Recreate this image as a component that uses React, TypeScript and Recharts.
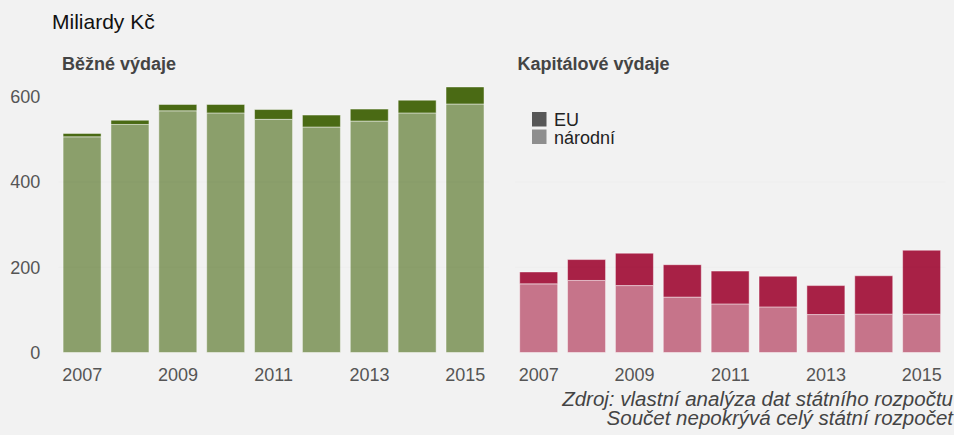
import React from "react";
import { BarChart, Bar, XAxis, YAxis, ReferenceLine } from "recharts";

const years = ["2007", "2008", "2009", "2010", "2011", "2012", "2013", "2014", "2015"];

// Běžné výdaje (mld. Kč)
const currentNational = [506, 535, 567, 562, 547, 529, 543, 562, 583];
const currentEU = [8, 10, 15, 20, 23, 28, 28, 30, 40];

// Kapitálové výdaje (mld. Kč)
const capitalNational = [161, 169, 157, 130, 114, 107, 89, 90, 90];
const capitalEU = [28, 49, 76, 76, 77, 72, 68, 90, 150];

const yTicks = [0, 200, 400, 600];
const gridLevels = [200, 400];

const legendItems = [
  { label: "EU", color: "#575757" },
  { label: "národní", color: "#8e8e8e" },
];

const footnotes = [
  "Zdroj: vlastní analýza dat státního rozpočtu",
  "Součet nepokrývá celý státní rozpočet",
];

const FONT = "'Liberation Sans', Arial, Helvetica, sans-serif";

const currentData = years.map((year, i) => ({
  year,
  national: currentNational[i],
  eu: currentEU[i],
}));

const capitalData = years.map((year, i) => ({
  year,
  national: capitalNational[i],
  eu: capitalEU[i],
}));

const W = 954;
const H = 435;
const chartMargin = { top: 79.7, bottom: 52.5 };

function Panel({
  data,
  left,
  width,
  margin,
  showY,
  light,
  dark,
}: {
  data: Array<{ year: string; national: number; eu: number }>;
  left: number;
  width: number;
  margin: { left: number; right: number };
  showY: boolean;
  light: string;
  dark: string;
}) {
  return (
    <div style={{ position: "absolute", left, top: 0 }}>
      <BarChart
        width={width}
        height={H}
        data={data}
        margin={{ top: chartMargin.top, bottom: chartMargin.bottom, left: margin.left, right: margin.right }}
        barCategoryGap="10%"
      >
        <XAxis
          dataKey="year"
          interval={1}
          axisLine={false}
          tickLine={false}
          height={30}
          tickMargin={10}
          tick={{ fontSize: 18, fill: "#555", fontFamily: FONT }}
        />
        <YAxis
          hide={!showY}
          domain={[0, 640]}
          ticks={yTicks}
          width={40}
          axisLine={false}
          tickLine={false}
          tickMargin={12}
          tick={{ fontSize: 18, fill: "#555", fontFamily: FONT }}
        />
        <Bar
          dataKey="national"
          stackId="a"
          fill={light}
          stroke="#ffffff"
          strokeOpacity={0.45}
          isAnimationActive={false}
        />
        <Bar
          dataKey="eu"
          stackId="a"
          fill={dark}
          stroke="#ffffff"
          strokeOpacity={0.45}
          isAnimationActive={false}
        />
        {gridLevels.map((v) => (
          <ReferenceLine key={v} y={v} stroke="#000" strokeOpacity={0.02} />
        ))}
      </BarChart>
    </div>
  );
}

export default function App() {
  return (
    <div
      style={{
        position: "absolute",
        left: 0,
        top: 0,
        width: W,
        height: H,
        background: "#f2f2f2",
        overflow: "hidden",
        fontFamily: FONT,
      }}
    >
      <Panel
        data={currentData}
        left={0}
        width={500}
        margin={{ left: 18.3, right: 10.9 }}
        showY
        light="#8b9f6b"
        dark="#4a6a14"
      />
      <Panel
        data={capitalData}
        left={500}
        width={454}
        margin={{ left: 14.9, right: 8.3 }}
        showY={false}
        light="#c6748a"
        dark="#a82146"
      />

      <svg
        width={W}
        height={H}
        style={{ position: "absolute", left: 0, top: 0, pointerEvents: "none" }}
      >
        <text x={52} y={28.5} fontSize={21} fill="#111" fontFamily={FONT}>
          Miliardy Kč
        </text>
        <text x={62} y={69.5} fontSize={18} fontWeight="bold" fill="#444" fontFamily={FONT}>
          Běžné výdaje
        </text>
        <text x={517.5} y={70} fontSize={18} fontWeight="bold" fill="#444" fontFamily={FONT}>
          Kapitálové výdaje
        </text>

        {legendItems.map((item, i) => (
          <g key={item.label}>
            <rect x={532} y={112 + i * 17.5} width={14.5} height={14.5} fill={item.color} />
            <text x={554} y={126 + i * 17.5} fontSize={18} fill="#222" fontFamily={FONT}>
              {item.label}
            </text>
          </g>
        ))}

        {footnotes.map((line, i) => (
          <text
            key={line}
            x={953}
            y={406 + i * 19}
            fontSize={20.5}
            fontStyle="italic"
            textAnchor="end"
            fill="#444"
            fontFamily={FONT}
          >
            {line}
          </text>
        ))}
      </svg>
    </div>
  );
}
